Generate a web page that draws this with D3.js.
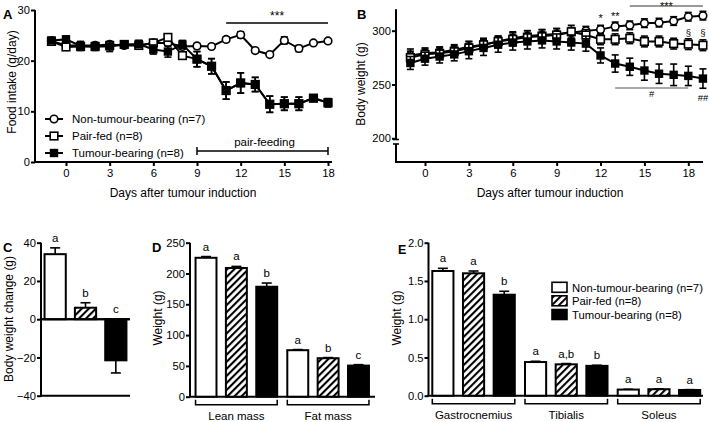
<!DOCTYPE html>
<html><head><meta charset="utf-8">
<script src="https://cdn.jsdelivr.net/npm/d3@7/dist/d3.min.js"></script>
<style>
body{margin:0;background:#fff;}
svg{display:block;font-family:Arial,"Liberation Sans",sans-serif;}
</style></head><body>
<svg id="chart" width="709" height="422"></svg>
<script>
// ---------- DATA ----------
const groupNames = ["Non-tumour-bearing (n=7)", "Pair-fed (n=8)", "Tumour-bearing (n=8)"];

// Panel A: food intake (g/day)
const daysA = [-1,0,1,2,3,4,5,6,7,8,9,10,11,12,13,14,15,16,17,18];
const foodNonTumour    = [23.9,23.0,23.0,23.0,23.2,23.0,23.0,23.5,23.5,22.8,22.9,22.8,24.2,25.1,22.0,21.2,24.0,22.4,23.5,23.9];
const foodNonTumourErr = [0.4,0.4,0.5,0.4,0.5,0.3,0.5,0.4,0.5,0.4,0.5,0.4,0.5,0.6,0.4,0.3,0.7,0.6,0.4,0.4];
const foodPairFed      = [23.8,22.7,22.8,22.8,23.0,23.2,23.0,23.5,24.6,21.0,20.3,18.9,14.1,15.6,15.3,11.4,11.5,11.5,12.6,11.7];
const foodPairFedErr   = [0.4,0.5,0.6,0.5,0.6,0.4,0.6,0.5,0.5,0.4,1.5,1.5,1.7,2.0,1.4,1.6,1.3,1.3,0.6,0.8];
const foodTumour       = [24.0,24.2,22.9,22.8,22.8,23.2,23.3,22.2,21.8,23.2,20.3,18.9,14.1,15.6,15.3,11.4,11.5,11.5,12.6,11.7];
const foodTumourErr    = [0.5,0.7,0.9,0.8,1.0,0.6,0.7,0.9,1.1,0.8,1.5,1.5,1.7,2.0,1.4,1.6,1.3,1.3,0.6,0.8];
const xTicksDays = [0,3,6,9,12,15,18];
const yTicksA = [0,10,20,30];

// Panel B: body weight (g)
const daysB = [-1,0,1,2,3,4,5,6,7,8,9,10,11,12,13,14,15,16,17,18,19];
const bwNonTumour    = [277,279,280,282,285,287,290,293,295,296,297,298,300,301,304,305,307,307.5,309,313,314];
const bwNonTumourErr = [6,5,5,5,5,5,5,6,5,5,5,5,4,4,4,4,4,4,4,4,4];
const bwPairFed      = [275,278,279,281,284,287,290,292,294,295,296,299,296,292,292,293,290,290,288,287.5,286.5];
const bwPairFedErr   = [6,5,5,5,6,6,5,6,6,6,6,6,5,5,5,5,5,5,5,5,5];
const bwTumour       = [270,274,276,278,281,284,287,289,290,291,290,289,288,277,269.5,266.5,263,260,259,258,255.5];
const bwTumourErr    = [6,6,6,6,7,7,7,7,7,7,7,7,7,7,8,8,9,9,10,9,9];
const yTicksB = [200,250,300];

// Panel C: body weight change (g)
const bwChange = [34, 6, -21.5];
const bwChangeErr = [3.3, 2.6, 6.6];
const bwChangeLetters = ["a","b","c"];
const yTicksC = [-40,-20,0,20,40];

// Panel D: body composition (g)
const compCategories = ["Lean mass","Fat mass"];
const compNonTumour = [225.5, 75.5];
const compNonTumourErr = [2, 1];
const compPairFed = [209, 62.5];
const compPairFedErr = [2.5, 1];
const compTumour = [178.5, 50.5];
const compTumourErr = [6, 1.5];
const compLettersNonTumour = ["a","a"];
const compLettersPairFed = ["a","b"];
const compLettersTumour = ["b","c"];
const yTicksD = [0,50,100,150,200,250];

// Panel E: muscle weights (g)
const muscles = ["Gastrocnemius","Tibialis","Soleus"];
const muscleNonTumour = [1.63, 0.44, 0.08];
const muscleNonTumourErr = [0.035, 0.01, 0.004];
const musclePairFed = [1.60, 0.41, 0.085];
const musclePairFedErr = [0.03, 0.01, 0.004];
const muscleTumour = [1.32, 0.39, 0.075];
const muscleTumourErr = [0.045, 0.008, 0.004];
const muscleLettersNonTumour = ["a","a","a"];
const muscleLettersPairFed = ["a","a,b","a"];
const muscleLettersTumour = ["b","b","a"];
const yTicksE = [0.0,0.5,1.0,1.5,2.0];

// ---------- DRAWING ----------
const svg = d3.select("#chart");
const defs = svg.append("defs");
const pat = defs.append("pattern").attr("id","hatch").attr("patternUnits","userSpaceOnUse")
  .attr("width",5).attr("height",5).attr("patternTransform","rotate(45)");
pat.append("rect").attr("width",5).attr("height",5).attr("fill","#fff");
pat.append("line").attr("x1",1).attr("y1",0).attr("x2",1).attr("y2",5).attr("stroke","#000").attr("stroke-width",2.2);
const fills = ["#fff","url(#hatch)","#000"];

function txt(x,y,s,opts={}){
  const t = svg.append("text").attr("x",x).attr("y",y).text(s)
    .attr("font-size",opts.size||11).attr("fill","#000")
    .attr("text-anchor",opts.anchor||"middle");
  if(opts.bold) t.attr("font-weight","bold");
  if(opts.rot) t.attr("transform",`rotate(-90,${x},${y})`);
  return t;
}
function line(x1,y1,x2,y2,w=2,c="#000"){
  svg.append("line").attr("x1",x1).attr("y1",y1).attr("x2",x2).attr("y2",y2)
    .attr("stroke",c).attr("stroke-width",w);
}
function yAxis(scale,x,ticks,fmt){
  const g = svg.append("g").attr("transform",`translate(${x},0)`)
    .call(d3.axisLeft(scale).tickValues(ticks).tickSize(4).tickPadding(1).tickSizeOuter(0).tickFormat(fmt||d3.format("d")));
  g.select(".domain").remove();
  g.selectAll("line").attr("stroke","#000").attr("stroke-width",2);
  g.selectAll("text").attr("font-size",11.2).attr("fill","#000").attr("font-family","Arial, 'Liberation Sans', sans-serif");
  return g;
}
function xAxis(scale,y,ticks){
  const g = svg.append("g").attr("transform",`translate(0,${y})`)
    .call(d3.axisBottom(scale).tickValues(ticks).tickSize(4).tickPadding(3).tickSizeOuter(0));
  g.select(".domain").remove();
  g.selectAll("line").attr("stroke","#000").attr("stroke-width",2);
  g.selectAll("text").attr("font-size",11.3).attr("fill","#000").attr("font-family","Arial, 'Liberation Sans', sans-serif");
  return g;
}
function marker(g,kind,x,y){
  if(kind===0) g.append("circle").attr("cx",x).attr("cy",y).attr("r",3.8).attr("fill","#fff").attr("stroke","#000").attr("stroke-width",1.6);
  else if(kind===1) g.append("rect").attr("x",x-3.8).attr("y",y-3.8).attr("width",7.6).attr("height",7.6).attr("fill","#fff").attr("stroke","#000").attr("stroke-width",1.6);
  else g.append("rect").attr("x",x-4.2).attr("y",y-4.2).attr("width",8.4).attr("height",8.4).attr("fill","#000");
}
function drawSeries(xs,vals,errs,kind,x,y){
  const g = svg.append("g");
  g.append("path").datum(vals).attr("fill","none").attr("stroke","#000").attr("stroke-width",2)
    .attr("d",d3.line().x((d,i)=>x(xs[i])).y(d=>y(d)));
  vals.forEach((v,i)=>{
    const cx = x(xs[i]);
    g.append("line").attr("x1",cx).attr("x2",cx).attr("y1",y(v-errs[i])).attr("y2",y(v+errs[i])).attr("stroke","#000").attr("stroke-width",1.6);
    [v-errs[i],v+errs[i]].forEach(e=>g.append("line").attr("x1",cx-3.5).attr("x2",cx+3.5).attr("y1",y(e)).attr("y2",y(e)).attr("stroke","#000").attr("stroke-width",1.6));
  });
  vals.forEach((v,i)=>marker(g,kind,x(xs[i]),y(v)));
}

// ===== Panel A =====
const xA = d3.scaleLinear().domain([0,18]).range([66,328]);
const yA = d3.scaleLinear().domain([0,30]).range([162,10]);
line(35,yA(30),35,yA(0)+1);
line(34,162,332,162);
yAxis(yA,35,yTicksA);
xAxis(xA,162,xTicksDays);
drawSeries(daysA,foodNonTumour,foodNonTumourErr,0,xA,yA);
drawSeries(daysA,foodPairFed,foodPairFedErr,1,xA,yA);
drawSeries(daysA,foodTumour,foodTumourErr,2,xA,yA);
txt(3,19,"A",{size:13,bold:true,anchor:"start"});
txt(16,82,"Food intake (g/day)",{size:12,rot:true});
txt(183,197,"Days after tumour induction",{size:12});
// significance
line(xA(11),23,xA(18),23,1.3);
txt((xA(11)+xA(18))/2,20,"***",{size:12});
// pair-feeding bracket
line(xA(9),151,xA(18),151,1.5);
line(xA(9),147,xA(9),155,1.5);
line(xA(18),147,xA(18),155,1.5);
txt((xA(9)+xA(18))/2+2,146,"pair-feeding",{size:11.5});
// legend A
[119,136,153].forEach((ly,i)=>{
  line(45,ly,63,ly,2);
  marker(svg,i,54,ly);
  txt(72,ly+4.2,groupNames[i],{size:11.5,anchor:"start"});
});

// ===== Panel B =====
const xB = d3.scaleLinear().domain([0,18]).range([425,688.3]);
const yB = d3.scaleLinear().domain([200,300]).range([138.3,30.7]);
line(396,yB(320),396,139.5);
line(393,139.5,399,139.5,1.6);
line(393,144,399,144,1.6);
line(396,144,396,163);
line(395,162,703,162);
yAxis(yB,396,yTicksB);
xAxis(xB,162,xTicksDays);
drawSeries(daysB,bwNonTumour,bwNonTumourErr,0,xB,yB);
drawSeries(daysB,bwPairFed,bwPairFedErr,1,xB,yB);
drawSeries(daysB,bwTumour,bwTumourErr,2,xB,yB);
txt(357,19,"B",{size:13,bold:true,anchor:"start"});
txt(365,84,"Body weight (g)",{size:12,rot:true});
txt(550,197,"Days after tumour induction",{size:12});
line(xB(14),6,xB(19),6,1.1,"#333");
txt((xB(14)+xB(19))/2,10,"***",{size:11});
txt(xB(12),22,"*",{size:11});
txt(xB(13),20,"**",{size:11});
txt(xB(18),36,"§",{size:9.5});
txt(xB(19),36,"§",{size:9.5});
line(xB(13),88,xB(18),88,1.1,"#555");
txt(xB(15.5),97,"#",{size:9.5});
txt(xB(19),101,"##",{size:9.5});

// ===== Panel C =====
const xC = d3.scaleBand().domain(groupNames).range([40,131]).paddingInner(0.3).paddingOuter(0.15);
const yC = d3.scaleLinear().domain([-40,40]).range([395.7,242.7]);
line(41,yC(40),41,yC(-40)+1);
yAxis(yC,41,yTicksC);
line(40,yC(0),130,yC(0));
line(40,yC(-40),130,yC(-40));
groupNames.forEach((g,i)=>{
  const v = bwChange[i], e = bwChangeErr[i];
  const bx = xC(g), bw = xC.bandwidth(), cx = bx+bw/2;
  const tip = v>=0 ? v+e : v-e;
  line(cx,yC(v),cx,yC(tip),1.6);
  line(cx-5,yC(tip),cx+5,yC(tip),1.6);
  svg.append("rect").attr("x",bx).attr("y",yC(Math.max(0,v))).attr("width",bw)
    .attr("height",Math.abs(yC(v)-yC(0))).attr("fill",fills[i]).attr("stroke","#000").attr("stroke-width",2);
  const ly = v>=0 ? yC(tip)-6 : yC(0)-6;
  txt(cx,ly,bwChangeLetters[i],{size:11.5});
});
line(40,yC(0),130,yC(0));
txt(3,252,"C",{size:13,bold:true,anchor:"start"});
txt(13,319,"Body weight change (g)",{size:12,rot:true});

// ===== grouped bar helper =====
function groupedBars(cats,series,errs,letters,x0,y,baseY){
  const x1 = d3.scaleBand().domain([0,1,2]).range([0,x0.bandwidth()]).paddingInner(0.31).paddingOuter(0);
  cats.forEach((c,ci)=>{
    series.forEach((s,si)=>{
      const v = s[ci], e = errs[si][ci];
      const bx = x0(c)+x1(si), bw = x1.bandwidth(), cx = bx+bw/2;
      line(cx,y(v),cx,y(v+e),1.6);
      line(cx-5,y(v+e),cx+5,y(v+e),1.6);
      svg.append("rect").attr("x",bx).attr("y",y(v)).attr("width",bw).attr("height",baseY-y(v))
        .attr("fill",fills[si]).attr("stroke","#000").attr("stroke-width",2);
      txt(cx,y(v+e)-6,letters[si][ci],{size:11.5});
    });
    const gx0 = x0(c), gx1 = x0(c)+x0.bandwidth();
    svg.append("path").attr("d",`M${gx0},${baseY+3}V${baseY+8}H${gx1}V${baseY+3}`)
      .attr("fill","none").attr("stroke","#000").attr("stroke-width",1.5);
    txt((gx0+gx1)/2,baseY+23,c,{size:11.5});
  });
}

// ===== Panel D =====
const xD = d3.scaleBand().domain(compCategories).range([190.5,374]).paddingInner(0.11).paddingOuter(0.055);
const yD = d3.scaleLinear().domain([0,250]).range([396.7,242.7]);
line(190,yD(250),190,yD(0));
line(189,yD(0),375,yD(0));
yAxis(yD,190,yTicksD);
groupedBars(compCategories,[compNonTumour,compPairFed,compTumour],[compNonTumourErr,compPairFedErr,compTumourErr],
  [compLettersNonTumour,compLettersPairFed,compLettersTumour],xD,yD,yD(0));
txt(152,252,"D",{size:13,bold:true,anchor:"start"});
txt(162,318,"Weight (g)",{size:12,rot:true});

// ===== Panel E =====
const xE = d3.scaleBand().domain(muscles).range([428.5,704]).paddingInner(0.11).paddingOuter(0.041);
const yE = d3.scaleLinear().domain([0,2]).range([395.7,242.7]);
line(428.5,yE(2),428.5,yE(0));
line(427.5,yE(0),703,yE(0));
yAxis(yE,428.5,yTicksE,d3.format(".1f"));
groupedBars(muscles,[muscleNonTumour,musclePairFed,muscleTumour],[muscleNonTumourErr,musclePairFedErr,muscleTumourErr],
  [muscleLettersNonTumour,muscleLettersPairFed,muscleLettersTumour],xE,yE,yE(0));
txt(398,254,"E",{size:12.5,bold:true,anchor:"start"});
txt(401,318,"Weight (g)",{size:12,rot:true});
[287.3,300.8,314.5].forEach((ly,i)=>{
  svg.append("rect").attr("x",552).attr("y",ly-5).attr("width",15).attr("height",10)
    .attr("fill",fills[i]).attr("stroke","#000").attr("stroke-width",1.6);
  txt(572,ly+4.2,groupNames[i],{size:11.3,anchor:"start"});
});
</script>
</body></html>
